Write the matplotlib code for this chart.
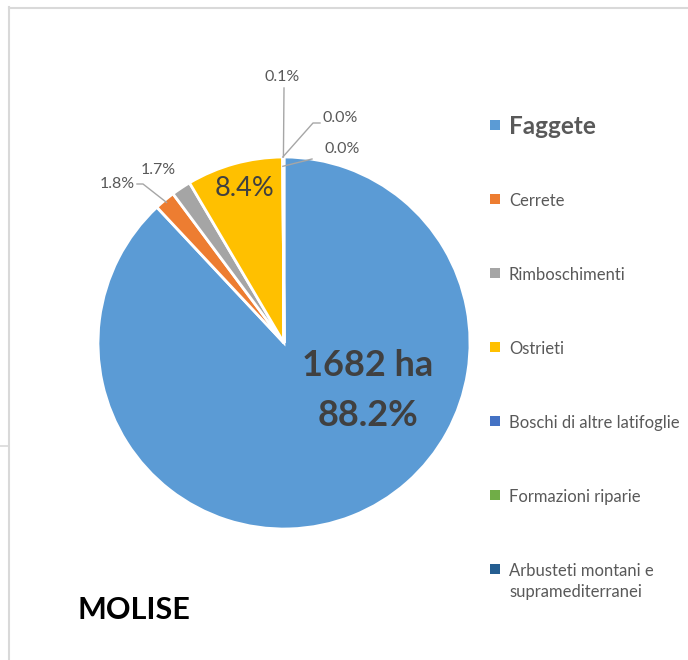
import numpy as np
import matplotlib
matplotlib.use("Agg")
import matplotlib.pyplot as plt
from matplotlib.patches import Rectangle
from matplotlib.lines import Line2D

plt.rcParams['font.family'] = ['Lato', 'DejaVu Sans']

# ---- data ----
categories = ["Faggete", "Cerrete", "Rimboschimenti", "Ostrieti",
              "Boschi di altre latifoglie", "Formazioni riparie",
              "Arbusteti montani e\nsupramediterranei"]
percent = [88.2, 1.8, 1.7, 8.4, 0.0, 0.0, 0.1]
faggete_ha = 1682
colors = ["#5B9BD5", "#ED7D31", "#A5A5A5", "#FFC000", "#4472C4", "#70AD47", "#255E91"]
title = "MOLISE"

W, H = 688, 660
fig = plt.figure(figsize=(W / 100, H / 100), dpi=100)

def fx(px):
    return px / W

def fy(py):
    return 1 - py / H

# frame decoration
fc = "#D9D9D9"
fig.add_artist(Line2D([fx(9), fx(9)], [fy(7), fy(660)], color=fc, lw=1.5))
fig.add_artist(Line2D([fx(9), fx(688)], [fy(7.5), fy(7.5)], color=fc, lw=1.5))
fig.add_artist(Line2D([0, fx(9)], [fy(446), fy(446)], color=fc, lw=1.2))

# pie axes
cx, cy, R = 284, 343, 186
ax = fig.add_axes([fx(cx - R), fy(cy + R), 2 * R / W, 2 * R / H])
wedges, _ = ax.pie(percent, colors=colors, startangle=90, counterclock=False,
                   radius=1, wedgeprops=dict(edgecolor="white", linewidth=2))
ax.set_xlim(-1, 1)
ax.set_ylim(-1, 1)
ax.set_aspect("equal")
ax.axis("off")

def d(px, py):
    return ((px - cx) / R, (cy - py) / R)

def edge_point(i, r=1.0):
    w = wedges[i]
    mid = np.deg2rad((w.theta1 + w.theta2) / 2)
    return (r * np.cos(mid), r * np.sin(mid))

lab = "#595959"
dark = "#404040"
lc = "#A6A6A6"

def leader(*pts, **kw):
    ax.add_line(Line2D(*zip(*pts), color=lc, lw=1, clip_on=False, zorder=5, **kw))

# big label in Faggete
ax.text(*d(368, 366), f"{faggete_ha} ha", ha="center", va="center",
        fontsize=26, fontweight="bold", color=dark)
ax.text(*d(368, 415), f"{percent[0]:.1f}%", ha="center", va="center",
        fontsize=26, fontweight="bold", color=dark)

# Ostrieti inside
ax.text(*d(244, 189), f"{percent[3]:.1f}%", ha="center", va="center",
        fontsize=19.5, color=dark)

# Rimboschimenti
ax.text(*d(158, 170), f"{percent[2]:.1f}%", ha="center", va="center",
        fontsize=11.5, color=lab)

# Cerrete with leader
ax.text(*d(117, 184), f"{percent[1]:.1f}%", ha="center", va="center",
        fontsize=11.5, color=lab)
leader(d(137, 184), d(143, 184), edge_point(1, 0.985))

# tiny slices at top
ax.text(*d(282, 77), f"{percent[6]:.1f}%", ha="center", va="center",
        fontsize=11.5, color=lab)
leader(d(284, 88), edge_point(6, 1.0))

ax.text(*d(340, 118), f"{percent[4]:.1f}%", ha="center", va="center",
        fontsize=11.5, color=lab)
leader(d(320, 123), d(313, 123), edge_point(4, 1.0))

ax.text(*d(342, 149), f"{percent[5]:.1f}%", ha="center", va="center",
        fontsize=11.5, color=lab)
leader(d(312, 159), edge_point(5, 0.95))

# legend (manual)
leg_y0, leg_dy = 125, 74
for i, (name, col) in enumerate(zip(categories, colors)):
    y = leg_y0 + i * leg_dy
    fig.add_artist(Rectangle((fx(490), fy(y + 5)), 10 / W, 10 / H,
                             facecolor=col, edgecolor="none",
                             transform=fig.transFigure))
    if i == 0:
        fig.text(fx(509), fy(y), name, ha="left", va="center_baseline",
                 fontsize=17.5, fontweight="bold", color=lab)
    else:
        fig.text(fx(509), fy(y - 6), name, ha="left", va="top",
                 fontsize=12, color=lab, linespacing=1.35)

fig.text(fx(77), fy(610), title, ha="left", va="center",
         fontsize=22, fontweight="bold", color="black")

fig.savefig("out.png", dpi=100, facecolor="white")
